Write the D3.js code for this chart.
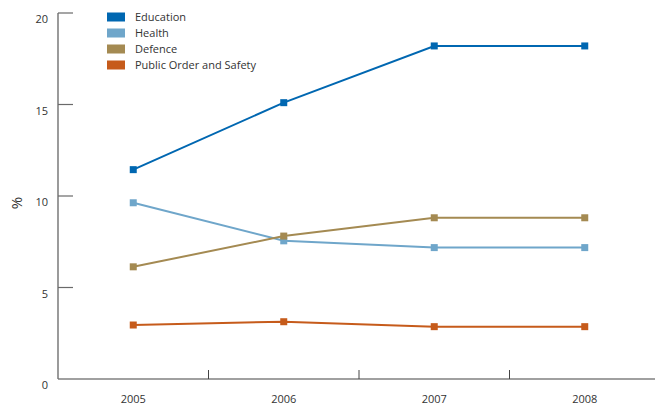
<!DOCTYPE html>
<html>
<head>
<meta charset="utf-8">
<script src="https://cdn.jsdelivr.net/npm/d3@7"></script>
<style>
  html, body { margin: 0; padding: 0; background: #fff; }
  svg { display: block; font-family: "Open Sans", "Noto Sans", sans-serif; }
</style>
</head>
<body>
<svg id="chart" width="655" height="405"></svg>
<script>
// Share of spending by function, %
const years = ["2005", "2006", "2007", "2008"];
const education = [11.44, 15.1, 18.2, 18.2];
const health = [9.63, 7.55, 7.18, 7.18];
const defence = [6.13, 7.81, 8.81, 8.81];
const publicOrder = [2.95, 3.13, 2.86, 2.86];
const yTicks = [0, 5, 10, 15, 20];

const seriesNames = ["Education", "Health", "Defence", "Public Order and Safety"];
const seriesValues = [education, health, defence, publicOrder];
const seriesColors = ["#0067b1", "#6fa6ca", "#a48a52", "#c65b1b"];

const svg = d3.select("#chart");
const plotLeft = 58, plotRight = 660, plotTop = 13, plotBottom = 379;

const x = d3.scaleBand().domain(years).range([plotLeft, plotRight]);
const y = d3.scaleLinear().domain([0, 20]).range([plotBottom, plotTop]);

// Axes
svg.append("line")
  .attr("x1", plotLeft).attr("x2", 655)
  .attr("y1", plotBottom).attr("y2", plotBottom)
  .attr("stroke", "#808080").attr("stroke-width", 1.6);
svg.append("line")
  .attr("x1", plotLeft).attr("x2", plotLeft)
  .attr("y1", plotTop).attr("y2", plotBottom)
  .attr("stroke", "#707070").attr("stroke-width", 1.4);

// y ticks point into the plot
svg.selectAll(".ytick").data(yTicks.filter(d => d > 0)).join("line")
  .attr("class", "ytick")
  .attr("x1", plotLeft).attr("x2", plotLeft + 15)
  .attr("y1", d => y(d)).attr("y2", d => y(d))
  .attr("stroke", "#6a6a6a").attr("stroke-width", 1.2);
svg.selectAll(".ylabel").data(yTicks).join("text")
  .attr("class", "ylabel")
  .attr("x", 48).attr("y", d => y(d) + 10)
  .attr("text-anchor", "end")
  .attr("font-size", 11).attr("fill", "#333")
  .text(d => d);

// x ticks at band boundaries, rising from the axis
svg.selectAll(".xtick").data(years.slice(1)).join("line")
  .attr("class", "xtick")
  .attr("x1", d => x(d)).attr("x2", d => x(d))
  .attr("y1", plotBottom).attr("y2", plotBottom - 9)
  .attr("stroke", "#444").attr("stroke-width", 1);
svg.selectAll(".xlabel").data(years).join("text")
  .attr("class", "xlabel")
  .attr("x", d => x(d) + x.bandwidth() / 2).attr("y", 403)
  .attr("text-anchor", "middle")
  .attr("font-size", 11).attr("fill", "#333")
  .text(d => d);

svg.append("text")
  .attr("transform", "translate(22,203) rotate(-90)")
  .attr("text-anchor", "middle")
  .attr("font-size", 15).attr("fill", "#333")
  .text("%");

// Lines and markers
const line = d3.line()
  .x((d, i) => x(years[i]) + x.bandwidth() / 2)
  .y(d => y(d));

seriesValues.forEach((vals, s) => {
  const g = svg.append("g");
  g.append("path")
    .attr("d", line(vals))
    .attr("fill", "none")
    .attr("stroke", seriesColors[s])
    .attr("stroke-width", 2);
  g.selectAll("rect").data(vals).join("rect")
    .attr("x", (d, i) => x(years[i]) + x.bandwidth() / 2 - 3.5)
    .attr("y", d => y(d) - 3.5)
    .attr("width", 7).attr("height", 7)
    .attr("fill", seriesColors[s]);
});

// Legend
const legend = svg.append("g");
seriesNames.forEach((name, i) => {
  const cy = 17 + i * 16;
  legend.append("rect")
    .attr("x", 107).attr("y", cy - 4.5)
    .attr("width", 18).attr("height", 9)
    .attr("fill", seriesColors[i]);
  legend.append("text")
    .attr("x", 135).attr("y", cy + 4)
    .attr("font-size", 11).attr("fill", "#333")
    .text(name);
});
</script>
</body>
</html>
